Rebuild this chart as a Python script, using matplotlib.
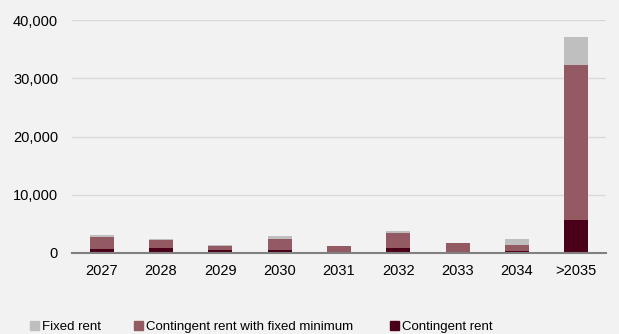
import matplotlib
matplotlib.use("Agg")
import matplotlib.pyplot as plt
from matplotlib.patches import Patch
from matplotlib.ticker import FuncFormatter
from matplotlib import font_manager
import numpy as np

categories = ["2027", "2028", "2029", "2030", "2031", "2032", "2033", "2034", ">2035"]
contingent = [700, 800, 500, 450, 100, 800, 100, 280, 5700]
contingent_min = [2000, 1350, 700, 1880, 1030, 2570, 1550, 1090, 26600]
fixed = [450, 170, 220, 590, 120, 470, 50, 1080, 4700]
series_names = ["Fixed rent", "Contingent rent with fixed minimum", "Contingent rent"]

c_fixed = "#bfbfbf"
c_min = "#935a63"
c_cont = "#4b0019"
bg = "#f2f2f2"

names = {f.name for f in font_manager.fontManager.ttflist}
base_font = "Liberation Sans" if "Liberation Sans" in names else "DejaVu Sans"
plt.rcParams["font.family"] = [base_font, "DejaVu Sans"]

fig = plt.figure(figsize=(6.19, 3.34), dpi=100, facecolor=bg)
ax = fig.add_axes([72 / 619, 81 / 334, (606 - 72) / 619, (253 - 20) / 334], facecolor=bg)

x = np.arange(len(categories))
w = 0.4
cont = np.array(contingent)
cmin = np.array(contingent_min)
fx = np.array(fixed)
ax.bar(x, cont, w, color=c_cont, zorder=3)
ax.bar(x, cmin, w, bottom=cont, color=c_min, zorder=3)
ax.bar(x, fx, w, bottom=cont + cmin, color=c_fixed, zorder=3)

ax.set_xlim(-0.5, len(categories) - 0.5)
ax.set_ylim(0, 40000)
ax.set_yticks([0, 10000, 20000, 30000, 40000])
ax.yaxis.set_major_formatter(FuncFormatter(lambda v, p: f"{int(v):,}"))
ax.set_xticks(x)
ax.set_xticklabels(categories)
ax.grid(axis="y", color="#d9d9d9", linewidth=1, zorder=0)
for s in ["top", "right", "left"]:
    ax.spines[s].set_visible(False)
ax.spines["bottom"].set_color("#808080")
ax.spines["bottom"].set_linewidth(1.5)
ax.spines["bottom"].set_zorder(4)
ax.tick_params(axis="x", length=0, pad=8, labelsize=10.5, colors="#000000")
ax.tick_params(axis="y", length=0, pad=10, labelsize=10.5, colors="#000000")

colors = [c_fixed, c_min, c_cont]
legend_x = [30, 134, 390]
for name, col, lx in zip(series_names, colors, legend_x):
    leg = fig.legend([Patch(color=col)], [name], loc="center left",
                     bbox_to_anchor=(lx / 619, 1 - 327 / 334),
                     frameon=False, handlelength=0.65, handleheight=0.75, handletextpad=0.25,
                     borderaxespad=0, borderpad=0, prop={"size": 9.5})

fig.savefig("out.png", dpi=100, facecolor=bg)
